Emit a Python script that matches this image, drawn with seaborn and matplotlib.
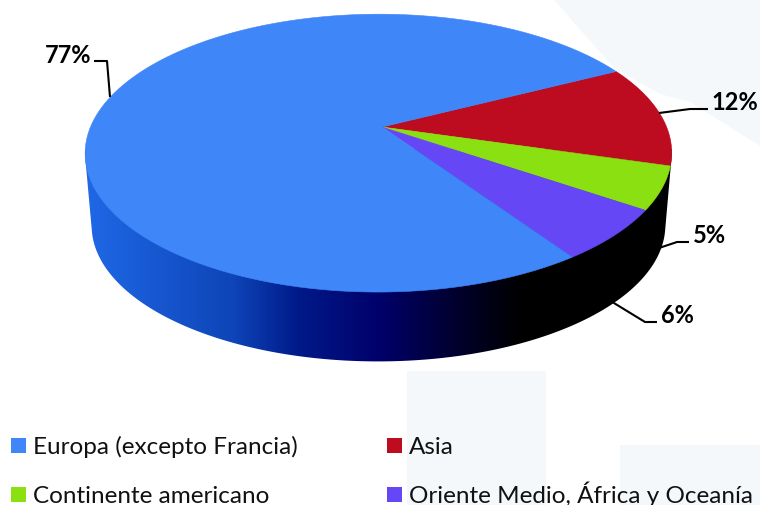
import numpy as np
import pandas as pd
import matplotlib
matplotlib.use("Agg")
import matplotlib.pyplot as plt
from matplotlib.colors import LinearSegmentedColormap
from matplotlib.patches import Polygon, Rectangle
import seaborn as sns

regions = ["Europa (excepto Francia)", "Asia", "Continente americano",
           "Oriente Medio, África y Oceanía"]
shares = [77, 12, 5, 6]
colors = ["#3f86f8", "#bd0b20", "#8be012", "#6647f5"]

sns.set_theme(style="white")
plt.rcParams["font.family"] = ["Lato", "DejaVu Sans"]

fig, ax = plt.subplots(figsize=(7.6, 5.06), dpi=100)
fig.subplots_adjust(0, 0, 1, 1)
ax.set_xlim(0, 760)
ax.set_ylim(506, 0)
ax.set_axis_off()

# Pale backdrop shapes
wash = "#f5f8fb"
ax.add_patch(Polygon([(553, 0), (615, 70), (660, 95), (690, 103), (760, 147), (760, 0)],
                     fc=wash, ec="none", zorder=0))
ax.add_patch(Rectangle((407, 372), 139, 134, fc=wash, ec="none", zorder=0))
ax.add_patch(Rectangle((620, 446), 140, 60, fc=wash, ec="none", zorder=0))

# Perspective projection of the pie disc
CX, CY = 382.0, 128.0
RX, RY, TILT, SKEW = 288.0, 134.0, 0.188, 0.012
START_DEG = 27.0


def project(theta, scale=1.0, drop=0.0):
    depth = np.sin(theta)
    s = 1.0 / (1.0 + TILT * depth + SKEW * np.cos(theta))
    x = CX + scale * RX * np.cos(theta) * s
    y = CY + drop - scale * RY * depth * s
    return x, y


def convex_hull(points):
    pts = sorted(map(tuple, points))

    def half(seq):
        out = []
        for p in seq:
            while len(out) > 1 and ((out[-1][0] - out[-2][0]) * (p[1] - out[-2][1])
                                    - (out[-1][1] - out[-2][1]) * (p[0] - out[-2][0])) <= 0:
                out.pop()
            out.append(p)
        return out[:-1]

    return np.array(half(pts) + half(pts[::-1]))


# Side wall: shaded from blue on the left to black on the right
circle = np.linspace(0, 2 * np.pi, 720, endpoint=False)
outline = np.r_[np.c_[project(circle)], np.c_[project(circle, scale=0.978, drop=73.0)]]
wall = Polygon(convex_hull(outline), closed=True, fc="none", ec="none",
               transform=ax.transData)
ax.add_patch(wall)
ramp = LinearSegmentedColormap.from_list(
    "wall",
    [(0.00, "#1f68e6"), (0.25, "#0e45b8"), (0.36, "#001a8a"),
     (0.50, "#00006a"), (0.66, "#000020"), (0.74, "#000000"), (1.00, "#000000")],
)
shade = ax.imshow(np.linspace(0, 1, 512)[None, :], cmap=ramp, aspect="auto",
                  extent=(85, 675, 370, 150), zorder=1)
shade.set_clip_path(wall)
ax.set_xlim(0, 760)
ax.set_ylim(506, 0)

# Top face wedges, running clockwise from the Europe/Asia boundary
edge = np.deg2rad(START_DEG)
for i in [1, 2, 3, 0]:
    sweep = np.deg2rad(shares[i] * 3.6)
    arc = np.linspace(edge, edge - sweep, max(shares[i] * 8, 12))
    arc_x, arc_y = project(arc)
    ax.fill(np.r_[CX, arc_x], np.r_[CY, arc_y], color=colors[i], lw=0.4, zorder=2)
    edge -= sweep

# Leader lines and value labels
leaders = [
    ([94, 107, 110], [62, 62, 98]),
    ([659, 690, 708], [114, 110, 110]),
    ([656, 677, 689], [250, 243, 243]),
    ([609, 645, 657], [301, 323, 323]),
]
label_pos = [(68, 63), (735, 110), (709, 243), (677, 323)]
for (lx, ly), (px, py), share in zip(leaders, label_pos, shares):
    ax.plot(lx, ly, color="black", lw=1.5, zorder=3, solid_capstyle="butt")
    ax.text(px, py, f"{share}%", ha="center", va="baseline",
            fontsize=17, fontweight="bold", color="black", zorder=4)

# Legend swatches and captions
legend = pd.DataFrame({
    "region": regions,
    "col": [18.5, 394.5, 18.5, 394.5],
    "row": [446.5, 446.5, 495.5, 495.5],
})
sns.scatterplot(data=legend, x="col", y="row", hue="region", palette=colors,
                hue_order=regions, marker="s", s=117, linewidth=0, legend=False,
                ax=ax, zorder=4)
for _, rec in legend.iterrows():
    ax.text(rec["col"] + 14.5, rec["row"] + 8, rec["region"], ha="left",
            va="baseline", fontsize=17.5, color="#111111", zorder=4)
ax.set_xlabel("")
ax.set_ylabel("")

fig.savefig("out.png", dpi=100, facecolor="white")
